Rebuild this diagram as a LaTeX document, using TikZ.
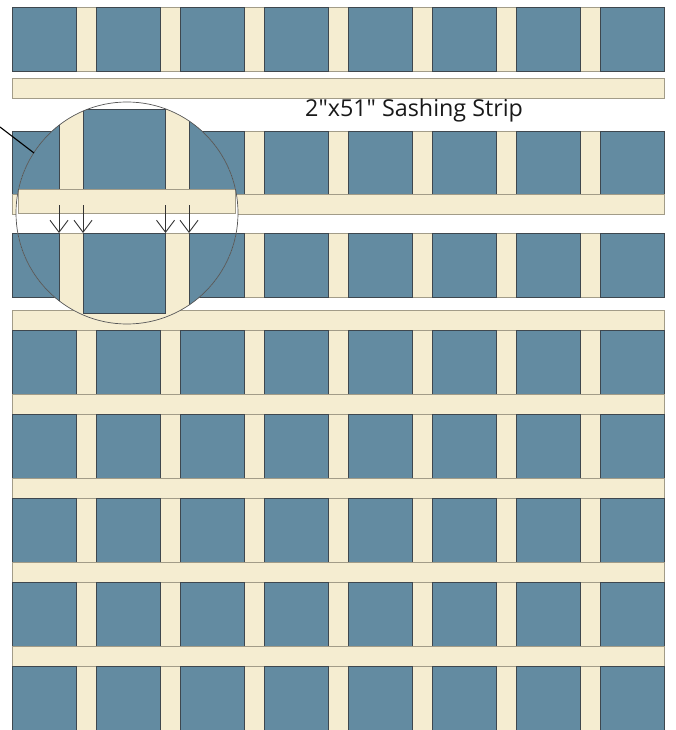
\documentclass[tikz,border=0pt]{standalone}
\usepackage{fontspec}
\setmainfont{Open Sans}[Ligatures=TeXOff]
\usetikzlibrary{arrows.meta}
\definecolor{blockblue}{HTML}{638BA1}
\definecolor{sashcream}{HTML}{F5EDD1}
\definecolor{blockedge}{HTML}{3E474E}
\definecolor{sashedge}{HTML}{A29C88}
\definecolor{lensedge}{HTML}{555555}
\newcommand\quiltrow[1]{%
  \path[sashbox] (12,#1) rectangle (664,#1+64);
  \foreach \k in {0,...,7}{\path[blockbox] ({12+84*\k},#1) rectangle ({76+84*\k},#1+64);}
}
\newcommand\hstrip[1]{\path[sashbox] (12,#1) rectangle (664,#1+19.5);}
\begin{document}
\begin{tikzpicture}[x=1pt,y=-1pt,
  blockbox/.style={fill=blockblue,draw=blockedge,line width=0.9pt},
  sashbox/.style={fill=sashcream,draw=sashedge,line width=0.8pt},
  lens/.style={draw=lensedge,line width=0.7pt},
  leader/.style={draw=black,line width=1.1pt},
  seamarrow/.style={draw=black!80,line width=0.9pt,-{Straight Barb[length=12pt,width=18pt,line width=0.9pt]}},
  labeltext/.style={anchor=base west,inner sep=0pt,font=\fontsize{23.3}{27}\selectfont,text=black!90}
]
\useasboundingbox (0,0) rectangle (675,730);
\clip (0,0) rectangle (675,730);
% rows and strips
\quiltrow{7}
\hstrip{78.5}
\quiltrow{131}
\hstrip{194.5}
\quiltrow{233}
\hstrip{310.5}
\quiltrow{330}
\hstrip{394.5}
\quiltrow{414}
\hstrip{478.5}
\quiltrow{498}
\hstrip{562.5}
\quiltrow{582}
\hstrip{646.5}
\quiltrow{666}
% magnifier
\coordinate (lc) at (127,213);
\begin{scope}
  \clip (lc) circle[radius=111pt];
  \fill[white] (lc) circle[radius=111pt];
  \path[sashbox] (-10,109) rectangle (260,189);
  \path[blockbox] (-40,109) rectangle (59,189);
  \path[blockbox] (83,109) rectangle (165.5,189);
  \path[blockbox] (189,109) rectangle (290,189);
  \path[sashbox] (18,189) rectangle (235,213);
  \path[sashbox] (-10,233) rectangle (260,340);
  \path[blockbox] (-40,233) rectangle (59,313);
  \path[blockbox] (83,233) rectangle (165.5,313);
  \path[blockbox] (189,233) rectangle (290,313);
  \foreach \ax [count=\i] in {59,83,165.5,189}{
    \coordinate (s\i) at (\ax,205);
    \coordinate (e\i) at (\ax,233);
    \draw[seamarrow] (s\i) -- (e\i);
  }
\end{scope}
\draw[lens] (lc) circle[radius=111pt];
\coordinate (lstart) at (0,127);
\coordinate (lend) at (34,153);
\draw[leader] (lstart) -- (lend);
\node[labeltext] (lbl) at (305,116.5) {2"x51" Sashing Strip};
\end{tikzpicture}
\end{document}
